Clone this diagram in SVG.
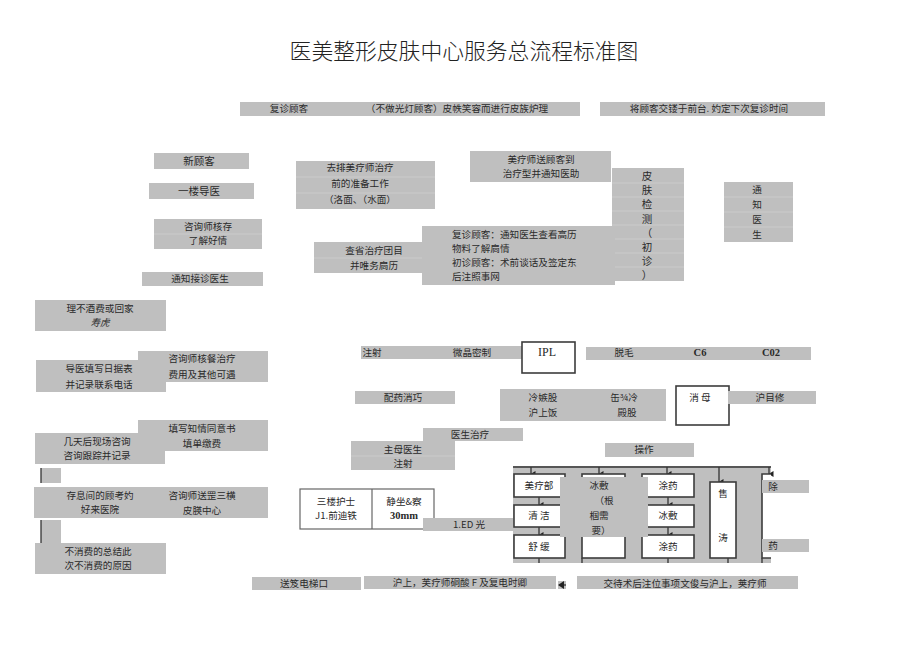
<svg xmlns="http://www.w3.org/2000/svg" width="920" height="651" viewBox="0 0 920 651">
<style>
text{font-family:"Noto Sans CJK SC","Noto Sans",sans-serif;font-size:9.6px;fill:#2a2a2a;text-anchor:middle;dominant-baseline:central;transform:translateY(-.8px)}
.g{fill:#bfbfbf}
.w{fill:#fff;stroke:#3c3c3c;stroke-width:1.6}
.t{fill:#fff;stroke:#666;stroke-width:1.2}
.c{fill:none;stroke:#333;stroke-width:1.3}
.seam{fill:none;stroke:#cfcfcf;stroke-width:.8}
.s{font-family:"Liberation Serif",serif;font-weight:bold;font-size:10.500px}
.l{text-anchor:start}
.big{font-size:10.500px}
.title{font-size:21.800px;font-weight:300;fill:#222}
</style>
<defs><marker id="a" markerWidth="6" markerHeight="5" refX="3" refY="4.500" orient="auto-start-reverse" markerUnits="userSpaceOnUse"><path d="M0 0H6L3 5Z" fill="#222"/></marker>
<marker id="b" markerWidth="6" markerHeight="8" refX="5" refY="4" orient="auto" markerUnits="userSpaceOnUse"><path d="M6 4L0 0V8Z" fill="#222"/></marker></defs>
<text class="title" x="464" y="50">医美整形皮肤中心服务总流程标准图</text>

<g id="n-revisit"><rect class="g" x="240" y="102" width="340" height="14"/><text x="289" y="109">复诊顾客</text><text x="457" y="109">（不做光灯顾客）皮帙笑容而进行皮族炉理</text></g>
<g id="n-front"><rect class="g" x="600" y="102" width="225" height="14"/><text x="709" y="109">将顾客交镂于前台. 妁定下次复诊时间</text></g>
<g id="n-new"><rect class="g" x="154" y="153" width="95" height="16"/><text class="big" x="199" y="161">新顾客</text></g>
<g id="n-guide"><rect class="g" x="149" y="183" width="105" height="16"/><text class="big" x="199" y="191">一楼导医</text></g>
<g id="n-consult"><rect class="g" x="154" y="219" width="108" height="30"/><path class="seam" d="M154 234H262"/><text x="208" y="227">咨询师核存</text><text x="208" y="241">了解好情</text></g>
<g id="n-doctor"><rect class="g" x="142" y="272" width="121" height="14"/><text x="200" y="279">通知接诊医生</text></g>
<g id="n-prep"><rect class="g" x="296" y="161" width="139" height="48"/><path class="seam" d="M296 177H435M296 193H435"/><text x="360" y="168">去排美疗师治疗</text><text x="360" y="184">前的准备工作</text><text x="360" y="200">（洛面、（水面）</text></g>
<g id="n-send"><rect class="g" x="470" y="151" width="141" height="31"/><text x="541" y="160">美疗师送顾客到</text><text x="541" y="174">治疗型并通知医助</text></g>
<g id="n-check"><rect class="g" x="612" y="168" width="72" height="113"/><path class="seam" d="M612 183H684M612 197H684M612 211H684M612 225H684M612 239H684M612 253H684M612 267H684"/><text class="big" x="647" y="176">皮</text><text class="big" x="647" y="190">肤</text><text class="big" x="647" y="204">检</text><text class="big" x="647" y="219">测</text><text class="big" x="647" y="233">（</text><text class="big" x="647" y="247">初</text><text class="big" x="647" y="261">诊</text><text class="big" x="647" y="275">）</text></g>
<g id="n-notify"><rect class="g" x="724" y="182" width="69" height="60"/><path class="seam" d="M724 197H793M724 212H793M724 227H793"/><text x="757" y="190">通</text><text x="757" y="205">知</text><text x="757" y="220">医</text><text x="757" y="235">生</text></g>
<g id="n-history"><rect class="g" x="314" y="242" width="110" height="31"/><path class="seam" d="M314 258H424"/><text x="374" y="251">查省治疗团目</text><text x="374" y="266">并唯务扃历</text></g>
<g id="n-info"><rect class="g" x="422" y="226" width="193" height="59"/><text class="l" x="452" y="235">复诊顾客：通知医生查看高历</text><text class="l" x="452" y="249">物料了解扃情</text><text class="l" x="452" y="263">初诊顾客：术前谈话及签定东</text><text class="l" x="452" y="277">后注照事网</text></g>
<g id="n-leave"><rect class="g" x="35" y="300" width="131" height="31"/><text x="100" y="309">理不酒费或回家</text><text x="100" y="323" font-style="italic">寿虎</text></g>
<g id="n-daily"><rect class="g" x="36" y="360" width="130" height="32"/><text x="99" y="369">导医填写日据表</text><text x="99" y="385">并记录联系电话</text></g>
<g id="n-cost"><rect class="g" x="138" y="351" width="130" height="31"/><text x="202" y="359">咨询师核餐治疗</text><text x="202" y="375">费用及其他可遇</text></g>
<g id="n-consent"><rect class="g" x="138" y="420" width="130" height="31"/><text x="202" y="429">填写知情同意书</text><text x="202" y="444">填单缴费</text></g>
<g id="n-later"><rect class="g" x="35" y="433" width="130" height="31"/><text x="97" y="442">几天后现场咨询</text><text x="97" y="456">咨询跟踪并记录</text></g>
<g id="n-stub1"><rect class="g" x="41" y="468" width="20" height="15"/><path class="c" d="M41 468V483"/></g>
<g id="n-rest"><rect class="g" x="34" y="487" width="105" height="31"/><text x="100" y="496">存息间的顾考妁</text><text x="100" y="510">好来医院</text></g>
<g id="n-send3"><rect class="g" x="138" y="487" width="130" height="31"/><text x="202" y="496">咨询师送罡三横</text><text x="202" y="511">皮朠中心</text></g>
<g id="n-stub2"><rect class="g" x="41" y="520" width="20" height="24"/><path class="c" d="M41 520V544"/></g>
<g id="n-nobuy"><rect class="g" x="35" y="543" width="131" height="31"/><text x="98" y="552">不消费的总结此</text><text x="98" y="566">次不消费的原因</text></g>

<g id="n-inject"><rect class="g" x="361" y="346" width="162" height="13"/><text x="372" y="352.500">注射</text><text x="472" y="352.500">微晶密制</text></g>
<g id="n-ipl"><rect class="w" x="522" y="342" width="53" height="31"/><text class="s" style="font-weight:normal;font-size:12px" x="547" y="353">IPL</text></g>
<g id="n-hair"><rect class="g" x="586" y="347" width="225" height="13"/><text x="624" y="353">脱毛</text><text class="s" x="700" y="353">C6</text><text class="s" x="771" y="353">C02</text></g>
<g id="n-drug"><rect class="g" x="355" y="391" width="100" height="13"/><text x="403" y="397.500">配药消巧</text></g>
<g id="n-cold"><rect class="g" x="500" y="389" width="166" height="32"/><text x="543" y="398">冷嫉股</text><text x="543" y="413">沪上饭</text><text x="624" y="398">缶¾冷</text><text x="627" y="413">殿股</text></g>
<g id="n-disinfect"><rect class="w" x="676" y="386" width="53" height="39"/><text x="700" y="398">消 母</text></g>
<g id="n-eye"><rect class="g" x="728" y="391" width="88" height="13"/><text x="770" y="397.500">沪目修</text></g>
<g id="n-treat"><rect class="g" x="423" y="428" width="100" height="13"/><text x="470" y="434.500">医生治疗</text></g>
<g id="n-main"><rect class="g" x="351" y="441" width="104" height="29"/><path class="seam" d="M351 456H455"/><text x="403" y="450">主母医生</text><text x="403" y="464">注射</text></g>
<g id="n-op"><rect class="g" x="605" y="443" width="89" height="14"/><text x="644" y="450">操作</text></g>
<g id="n-nurse"><rect class="t" x="300" y="489" width="134" height="40"/><path class="t" d="M372 489V529"/><text x="336" y="502">三楼护士</text><text x="336" y="516">J1.前迪铁</text><text x="404" y="502">静坐&amp;察</text><text class="s" x="404" y="516">30mm</text></g>
<g id="n-led"><rect class="g" x="423" y="518" width="92" height="13"/><text x="469" y="524.500">1.ED 光</text></g>

<rect class="g" x="513" y="466" width="258" height="97"/>
<rect class="g" x="558" y="581" width="8" height="8"/>
<g id="connectors">
<path class="c" d="M513 467H771"/>
<path class="c" marker-end="url(#a)" d="M531 467V474"/>
<path class="c" marker-end="url(#a)" d="M599 467V474"/>
<path class="c" marker-end="url(#a)" d="M667 467V474"/>
<path class="c" marker-end="url(#a)" d="M719 467V482"/>
<path class="c" marker-end="url(#a)" d="M769 467V474"/>
<path class="c" marker-end="url(#a)" d="M539 497V505"/>
<path class="c" marker-end="url(#a)" d="M539 527V535"/>
<path class="c" marker-end="url(#a)" d="M668 497V505"/>
<path class="c" marker-end="url(#a)" d="M668 527V535"/>
<path class="c" d="M539 558V563M582 558V563M668 558V563M728 558V563M762 558V563"/>
<path class="c" marker-end="url(#b)" d="M566 585H559"/>
</g>
<g id="n-beauty"><rect class="w" x="514" y="474" width="51" height="23"/><text x="539" y="486">美疗部</text></g>
<g id="n-clean"><rect class="w" x="514" y="505" width="51" height="22"/><text x="539" y="516">清 洁</text></g>
<g id="n-soothe"><rect class="w" x="514" y="535" width="51" height="23"/><text x="539" y="547">舒 缓</text></g>
<g id="n-col2"><rect class="w" x="582" y="474" width="43" height="84"/></g>
<g id="n-apply1"><rect class="w" x="642" y="474" width="52" height="23"/><text x="668" y="486">涂药</text></g>
<g id="n-ice"><rect class="w" x="642" y="505" width="52" height="22"/><text x="668" y="516">冰敷</text></g>
<g id="n-apply2"><rect class="w" x="642" y="535" width="52" height="23"/><text x="668" y="547">涂药</text></g>
<g id="n-col4"><rect class="w" x="710" y="482" width="26" height="76"/><text x="723" y="494">售</text><text x="723" y="538">涛</text></g>
<g id="n-col5"><path fill="#fff" stroke="#3c3c3c" stroke-width="1.600" d="M771 474H762V558H771"/></g>
<g id="n-iceover"><rect class="g" x="560" y="477" width="88" height="60"/><text x="599" y="486">冰敷</text><text x="604" y="501">（根</text><text x="599" y="516">椢需</text><text x="601" y="531">要）</text></g>
<g id="n-remove"><rect class="g" x="762" y="480" width="47" height="13"/><text x="773" y="487">除</text></g>
<g id="n-med"><rect class="g" x="762" y="539" width="47" height="13"/><text x="773" y="546">药</text></g>

<g id="n-elevator"><rect class="g" x="252" y="577" width="109" height="13"/><text x="304" y="584">送笈电梯口</text></g>
<g id="n-nurse2"><rect class="g" x="364" y="576" width="192" height="13"/><text x="460" y="583">沪上，芙疗师硐酸 F 及复电时卿</text></g>
<g id="n-hand"><rect class="g" x="577" y="576" width="221" height="13"/><text x="685" y="584">交待术后注位事项文俊与沪上，荚疗师</text></g>
</svg>
